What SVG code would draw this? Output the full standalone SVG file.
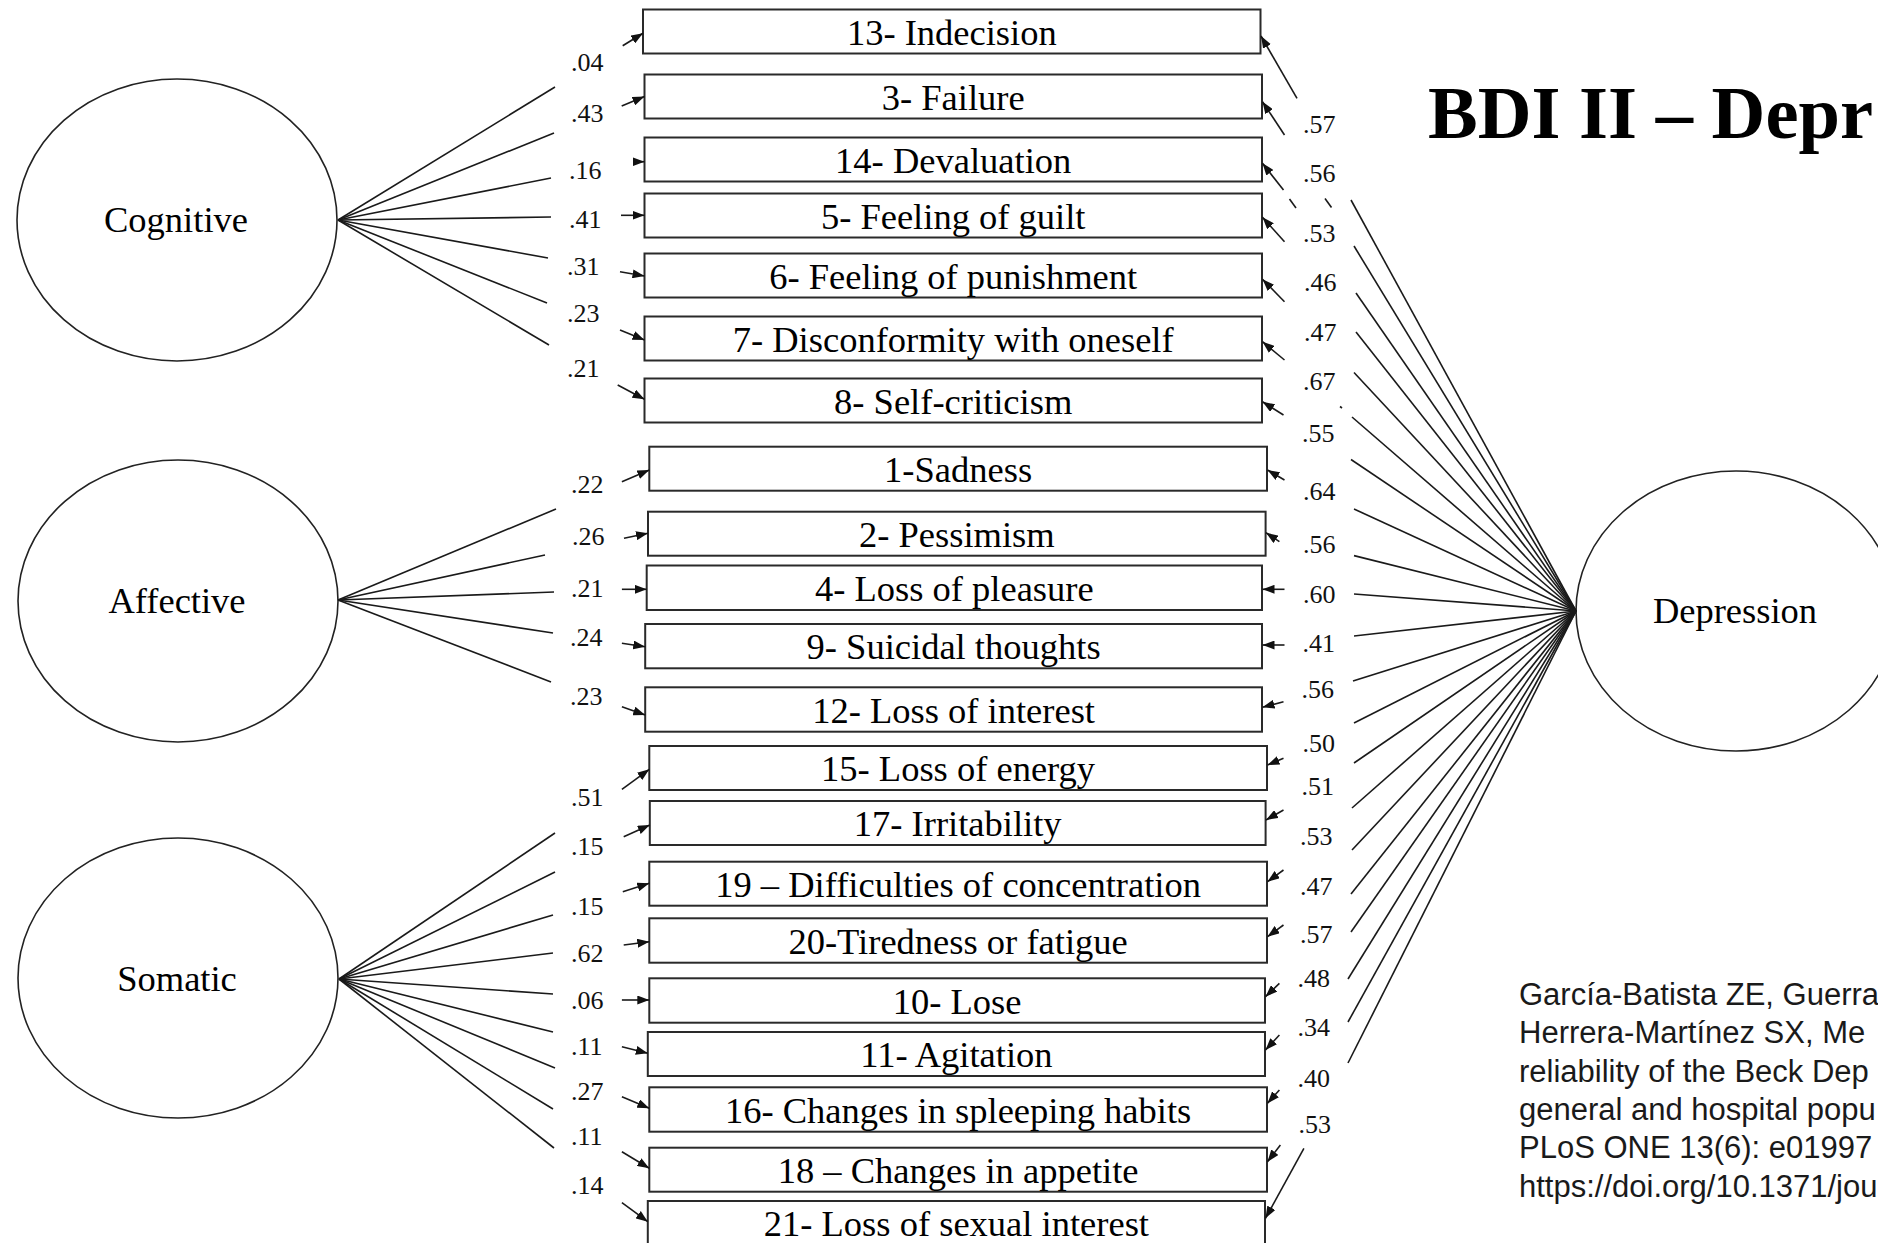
<svg xmlns="http://www.w3.org/2000/svg" width="1878" height="1243" viewBox="0 0 1878 1243">
<defs>
<marker id="ah" markerUnits="userSpaceOnUse" markerWidth="13" markerHeight="9" refX="12" refY="4.5" orient="auto"><path d="M0,0 L12,4.5 L0,9 Z" fill="#111"/></marker>
</defs>
<style>
.box{fill:#fff;stroke:#2a2a2a;stroke-width:2}
.lat{fill:#fff;stroke:#222;stroke-width:1.6}
.bt{font-family:"Liberation Serif","Times New Roman",serif;font-size:36.5px;text-anchor:middle;fill:#000}
.lt{font-family:"Liberation Serif","Times New Roman",serif;font-size:36.5px;text-anchor:middle;fill:#000}
.num{font-family:"Liberation Serif","Times New Roman",serif;font-size:26px;fill:#111}
.ln{stroke:#1a1a1a;stroke-width:1.6;fill:none}
.err{stroke:#1a1a1a;stroke-width:1.6;fill:none;marker-end:url(#ah)}
.title{font-family:"Liberation Serif","Times New Roman",serif;font-size:74.5px;font-weight:bold;fill:#000}
.cite{font-family:"Liberation Sans",Arial,sans-serif;font-size:31px;fill:#1a1a1a}
</style>
<rect width="1878" height="1243" fill="#fff"/>

<g id="latent-cognitive"><ellipse class="lat" cx="177" cy="220" rx="160" ry="141"/><text class="lt" x="176" y="231.7">Cognitive</text></g>
<g id="latent-affective"><ellipse class="lat" cx="178" cy="601" rx="160" ry="141"/><text class="lt" x="177" y="612.7">Affective</text></g>
<g id="latent-somatic"><ellipse class="lat" cx="178" cy="978" rx="160" ry="140"/><text class="lt" x="177" y="991">Somatic</text></g>
<g id="latent-depression"><ellipse class="lat" cx="1736" cy="611" rx="160" ry="140"/><text class="lt" x="1735" y="622.7">Depression</text></g>

<g id="item-13"><rect class="box" x="643" y="9.5" width="617.5" height="44"/><text class="bt" x="951.8" y="44.5">13- Indecision</text></g>
<g id="item-3"><rect class="box" x="644.5" y="74.5" width="617.5" height="44"/><text class="bt" x="953.2" y="109.5">3- Failure</text></g>
<g id="item-14"><rect class="box" x="644.5" y="137.5" width="617.5" height="44"/><text class="bt" x="953.2" y="172.5">14- Devaluation</text></g>
<g id="item-5"><rect class="box" x="644.5" y="193.5" width="617.5" height="44"/><text class="bt" x="953.2" y="228.5">5- Feeling of guilt</text></g>
<g id="item-6"><rect class="box" x="644.5" y="253.5" width="617.5" height="44"/><text class="bt" x="953.2" y="288.5">6- Feeling of punishment</text></g>
<g id="item-7"><rect class="box" x="644.5" y="316.5" width="617.5" height="44"/><text class="bt" x="953.2" y="351.5">7- Disconformity with oneself</text></g>
<g id="item-8"><rect class="box" x="644.5" y="378.5" width="617.5" height="44"/><text class="bt" x="953.2" y="413.5">8- Self-criticism</text></g>
<g id="item-1"><rect class="box" x="649.3" y="446.7" width="617.7" height="44"/><text class="bt" x="958.1" y="481.7">1-Sadness</text></g>
<g id="item-2"><rect class="box" x="648" y="511.7" width="617.6" height="44"/><text class="bt" x="956.8" y="546.7">2- Pessimism</text></g>
<g id="item-4"><rect class="box" x="646.7" y="565.5" width="615.3" height="44.5"/><text class="bt" x="954.3" y="600.7">4- Loss of pleasure</text></g>
<g id="item-9"><rect class="box" x="645.2" y="624" width="616.8" height="44.3"/><text class="bt" x="953.6" y="659.2">9- Suicidal thoughts</text></g>
<g id="item-12"><rect class="box" x="645.2" y="687.3" width="616.8" height="44.4"/><text class="bt" x="953.6" y="722.5">12- Loss of interest</text></g>
<g id="item-15"><rect class="box" x="649.3" y="746" width="617.7" height="44"/><text class="bt" x="958.1" y="781">15- Loss of energy</text></g>
<g id="item-17"><rect class="box" x="649.8" y="801" width="615.8" height="44"/><text class="bt" x="957.7" y="836">17- Irritability</text></g>
<g id="item-19"><rect class="box" x="649.3" y="861.7" width="617.7" height="44"/><text class="bt" x="958.1" y="896.7">19 – Difficulties of concentration</text></g>
<g id="item-20"><rect class="box" x="649.3" y="918.3" width="617.7" height="44.4"/><text class="bt" x="958.1" y="953.5">20-Tiredness or fatigue</text></g>
<g id="item-10"><rect class="box" x="649.3" y="978.3" width="615.7" height="44.4"/><text class="bt" x="957.1" y="1013.5">10- Lose</text></g>
<g id="item-11"><rect class="box" x="647.8" y="1032" width="617.2" height="44"/><text class="bt" x="956.4" y="1067">11- Agitation</text></g>
<g id="item-16"><rect class="box" x="649.3" y="1087.3" width="617.7" height="44.4"/><text class="bt" x="958.1" y="1122.5">16- Changes in spleeping habits</text></g>
<g id="item-18"><rect class="box" x="649.3" y="1147.7" width="617.7" height="44"/><text class="bt" x="958.1" y="1182.7">18 – Changes in appetite</text></g>
<g id="item-21"><rect class="box" x="647.8" y="1201" width="617.2" height="44"/><text class="bt" x="956.4" y="1236">21- Loss of sexual interest</text></g>

<g id="connectors">
<g id="loadings-cognitive">
<line class="ln" x1="338" y1="220" x2="555" y2="87"/>
<line class="ln" x1="338" y1="220" x2="554" y2="133"/>
<line class="ln" x1="338" y1="220" x2="551" y2="178"/>
<line class="ln" x1="338" y1="220" x2="551" y2="217"/>
<line class="ln" x1="338" y1="220" x2="548" y2="258"/>
<line class="ln" x1="338" y1="220" x2="547" y2="303"/>
<line class="ln" x1="338" y1="220" x2="549" y2="345"/>
</g>
<g id="loadings-affective">
<line class="ln" x1="338" y1="600" x2="556" y2="509"/>
<line class="ln" x1="338" y1="600" x2="545" y2="555"/>
<line class="ln" x1="338" y1="600" x2="554" y2="592"/>
<line class="ln" x1="338" y1="600" x2="553" y2="633"/>
<line class="ln" x1="338" y1="600" x2="551" y2="682"/>
</g>
<g id="loadings-somatic">
<line class="ln" x1="339" y1="979" x2="555" y2="833"/>
<line class="ln" x1="339" y1="979" x2="555" y2="872"/>
<line class="ln" x1="339" y1="979" x2="553" y2="915"/>
<line class="ln" x1="339" y1="979" x2="553" y2="953"/>
<line class="ln" x1="339" y1="979" x2="553" y2="994"/>
<line class="ln" x1="339" y1="979" x2="553" y2="1032"/>
<line class="ln" x1="339" y1="979" x2="555" y2="1068"/>
<line class="ln" x1="339" y1="979" x2="553" y2="1109"/>
<line class="ln" x1="339" y1="979" x2="554" y2="1148"/>
</g>
<g id="loadings-depression">
<line class="ln" x1="1576" y1="611" x2="1351" y2="200"/>
<line class="ln" x1="1576" y1="611" x2="1354" y2="246"/>
<line class="ln" x1="1576" y1="611" x2="1356" y2="293"/>
<line class="ln" x1="1576" y1="611" x2="1356" y2="332"/>
<line class="ln" x1="1576" y1="611" x2="1354" y2="372.5"/>
<line class="ln" x1="1576" y1="611" x2="1352" y2="417"/>
<line class="ln" x1="1576" y1="611" x2="1351" y2="459.5"/>
<line class="ln" x1="1576" y1="611" x2="1354" y2="509"/>
<line class="ln" x1="1576" y1="611" x2="1354" y2="555.6"/>
<line class="ln" x1="1576" y1="611" x2="1354" y2="594"/>
<line class="ln" x1="1576" y1="611" x2="1354" y2="636"/>
<line class="ln" x1="1576" y1="611" x2="1353" y2="681"/>
<line class="ln" x1="1576" y1="611" x2="1354" y2="723"/>
<line class="ln" x1="1576" y1="611" x2="1354" y2="763"/>
<line class="ln" x1="1576" y1="611" x2="1352" y2="808"/>
<line class="ln" x1="1576" y1="611" x2="1352" y2="850"/>
<line class="ln" x1="1576" y1="611" x2="1351" y2="894"/>
<line class="ln" x1="1576" y1="611" x2="1351" y2="932"/>
<line class="ln" x1="1576" y1="611" x2="1348" y2="979"/>
<line class="ln" x1="1576" y1="611" x2="1348" y2="1022"/>
<line class="ln" x1="1576" y1="611" x2="1348" y2="1063"/>
</g>
<g id="errors-left">
<line class="err" x1="622.7" y1="45.7" x2="643" y2="33.3"/>
<line class="err" x1="621.7" y1="106" x2="644.5" y2="96.5"/>
<line class="err" x1="633" y1="161.7" x2="644.5" y2="161.7"/>
<line class="err" x1="621" y1="215.3" x2="644.5" y2="215.3"/>
<line class="err" x1="620" y1="271.7" x2="644.5" y2="276"/>
<line class="err" x1="620" y1="330" x2="644.5" y2="340"/>
<line class="err" x1="617.7" y1="385" x2="644.5" y2="399.3"/>
<line class="err" x1="621.9" y1="481.7" x2="649.3" y2="470"/>
<line class="err" x1="624" y1="538.3" x2="648" y2="533.3"/>
<line class="err" x1="621.9" y1="589.3" x2="646.7" y2="589.3"/>
<line class="err" x1="621.9" y1="643.3" x2="645.2" y2="646.7"/>
<line class="err" x1="621.9" y1="706.7" x2="645.2" y2="715"/>
<line class="err" x1="621.9" y1="789.3" x2="649.3" y2="769.3"/>
<line class="err" x1="623.7" y1="836.7" x2="649.8" y2="825"/>
<line class="err" x1="622.8" y1="891.7" x2="649.3" y2="883.3"/>
<line class="err" x1="623.7" y1="945" x2="649.3" y2="941.7"/>
<line class="err" x1="621.9" y1="1000" x2="649.3" y2="1000"/>
<line class="err" x1="621.9" y1="1046.7" x2="647.8" y2="1053.3"/>
<line class="err" x1="621.9" y1="1096.7" x2="649.3" y2="1108.3"/>
<line class="err" x1="621.9" y1="1151.7" x2="649.3" y2="1168.3"/>
<line class="err" x1="621.9" y1="1202.7" x2="647.8" y2="1221.7"/>
</g>
<g id="errors-right">
<line class="err" x1="1297" y1="98.3" x2="1261" y2="36"/>
<line class="err" x1="1284.5" y1="135" x2="1262.5" y2="101.7"/>
<line class="err" x1="1283.5" y1="190" x2="1262.5" y2="163.3"/>
<line class="ln" x1="1289.5" y1="199" x2="1296" y2="208"/>
<line class="ln" x1="1325" y1="198.5" x2="1331.5" y2="207.5"/>
<line class="ln" x1="1340" y1="406.5" x2="1342" y2="408"/>
<line class="err" x1="1284.5" y1="241.7" x2="1262.5" y2="217.3"/>
<line class="err" x1="1284.5" y1="301.7" x2="1262.5" y2="279.3"/>
<line class="err" x1="1284.5" y1="360" x2="1262.5" y2="341.7"/>
<line class="err" x1="1283.5" y1="415" x2="1262.5" y2="401.7"/>
<line class="err" x1="1284.5" y1="480" x2="1267.5" y2="470"/>
<line class="err" x1="1279.4" y1="541.7" x2="1266" y2="532.7"/>
<line class="err" x1="1284.5" y1="589.3" x2="1262.5" y2="589.3"/>
<line class="err" x1="1284.5" y1="645" x2="1262.5" y2="645"/>
<line class="err" x1="1283.5" y1="701.7" x2="1262.5" y2="707.3"/>
<line class="err" x1="1283.5" y1="758.3" x2="1267.5" y2="765"/>
<line class="err" x1="1283.5" y1="810" x2="1266" y2="820"/>
<line class="err" x1="1283.5" y1="870" x2="1267.5" y2="881.7"/>
<line class="err" x1="1283.5" y1="925" x2="1267.5" y2="936.7"/>
<line class="err" x1="1279.4" y1="983.3" x2="1265.5" y2="996.7"/>
<line class="err" x1="1279.4" y1="1035" x2="1265.5" y2="1050"/>
<line class="err" x1="1279.4" y1="1090" x2="1267.5" y2="1103.3"/>
<line class="err" x1="1280.4" y1="1145" x2="1267.5" y2="1161.7"/>
<line class="err" x1="1303.9" y1="1148.3" x2="1265.5" y2="1218.3"/>
</g>
</g>

<g id="labels-left">
<text class="num" x="571" y="70.7">.04</text>
<text class="num" x="571" y="121.7">.43</text>
<text class="num" x="569" y="179">.16</text>
<text class="num" x="569" y="228.3">.41</text>
<text class="num" x="567" y="275">.31</text>
<text class="num" x="567" y="321.7">.23</text>
<text class="num" x="567" y="376.7">.21</text>
<text class="num" x="571" y="493.3">.22</text>
<text class="num" x="572" y="545">.26</text>
<text class="num" x="571" y="597.3">.21</text>
<text class="num" x="570" y="646">.24</text>
<text class="num" x="570" y="705">.23</text>
<text class="num" x="571" y="806">.51</text>
<text class="num" x="571" y="855">.15</text>
<text class="num" x="571" y="915">.15</text>
<text class="num" x="571" y="961.7">.62</text>
<text class="num" x="571" y="1009.3">.06</text>
<text class="num" x="571" y="1055">.11</text>
<text class="num" x="571" y="1100">.27</text>
<text class="num" x="571" y="1145">.11</text>
<text class="num" x="571" y="1194">.14</text>
</g>
<g id="labels-right">
<text class="num" x="1303" y="133.3">.57</text>
<text class="num" x="1303" y="181.7">.56</text>
<text class="num" x="1303" y="241.7">.53</text>
<text class="num" x="1304" y="290.7">.46</text>
<text class="num" x="1304" y="340.7">.47</text>
<text class="num" x="1303" y="390">.67</text>
<text class="num" x="1302" y="441.7">.55</text>
<text class="num" x="1303" y="500">.64</text>
<text class="num" x="1303" y="553.3">.56</text>
<text class="num" x="1303" y="602.7">.60</text>
<text class="num" x="1302.5" y="651.7">.41</text>
<text class="num" x="1301.5" y="698.3">.56</text>
<text class="num" x="1302.5" y="751.7">.50</text>
<text class="num" x="1301.5" y="795">.51</text>
<text class="num" x="1300" y="845">.53</text>
<text class="num" x="1300" y="895">.47</text>
<text class="num" x="1300" y="943.3">.57</text>
<text class="num" x="1297.5" y="986.7">.48</text>
<text class="num" x="1297.5" y="1036">.34</text>
<text class="num" x="1297.5" y="1086.5">.40</text>
<text class="num" x="1298.5" y="1133.3">.53</text>
</g>

<text class="title" x="1428" y="138">BDI II – Depr</text>
<g id="citation">
<text class="cite" x="1519" y="1005">García-Batista ZE, Guerra</text>
<text class="cite" x="1519" y="1043.3">Herrera-Martínez SX, Me</text>
<text class="cite" x="1519" y="1081.6">reliability of the Beck Dep</text>
<text class="cite" x="1519" y="1119.9">general and hospital popu</text>
<text class="cite" x="1519" y="1158.2">PLoS ONE 13(6): e01997</text>
<text class="cite" x="1519" y="1196.5">https://doi.org/10.1371/jou</text>
</g>
</svg>
